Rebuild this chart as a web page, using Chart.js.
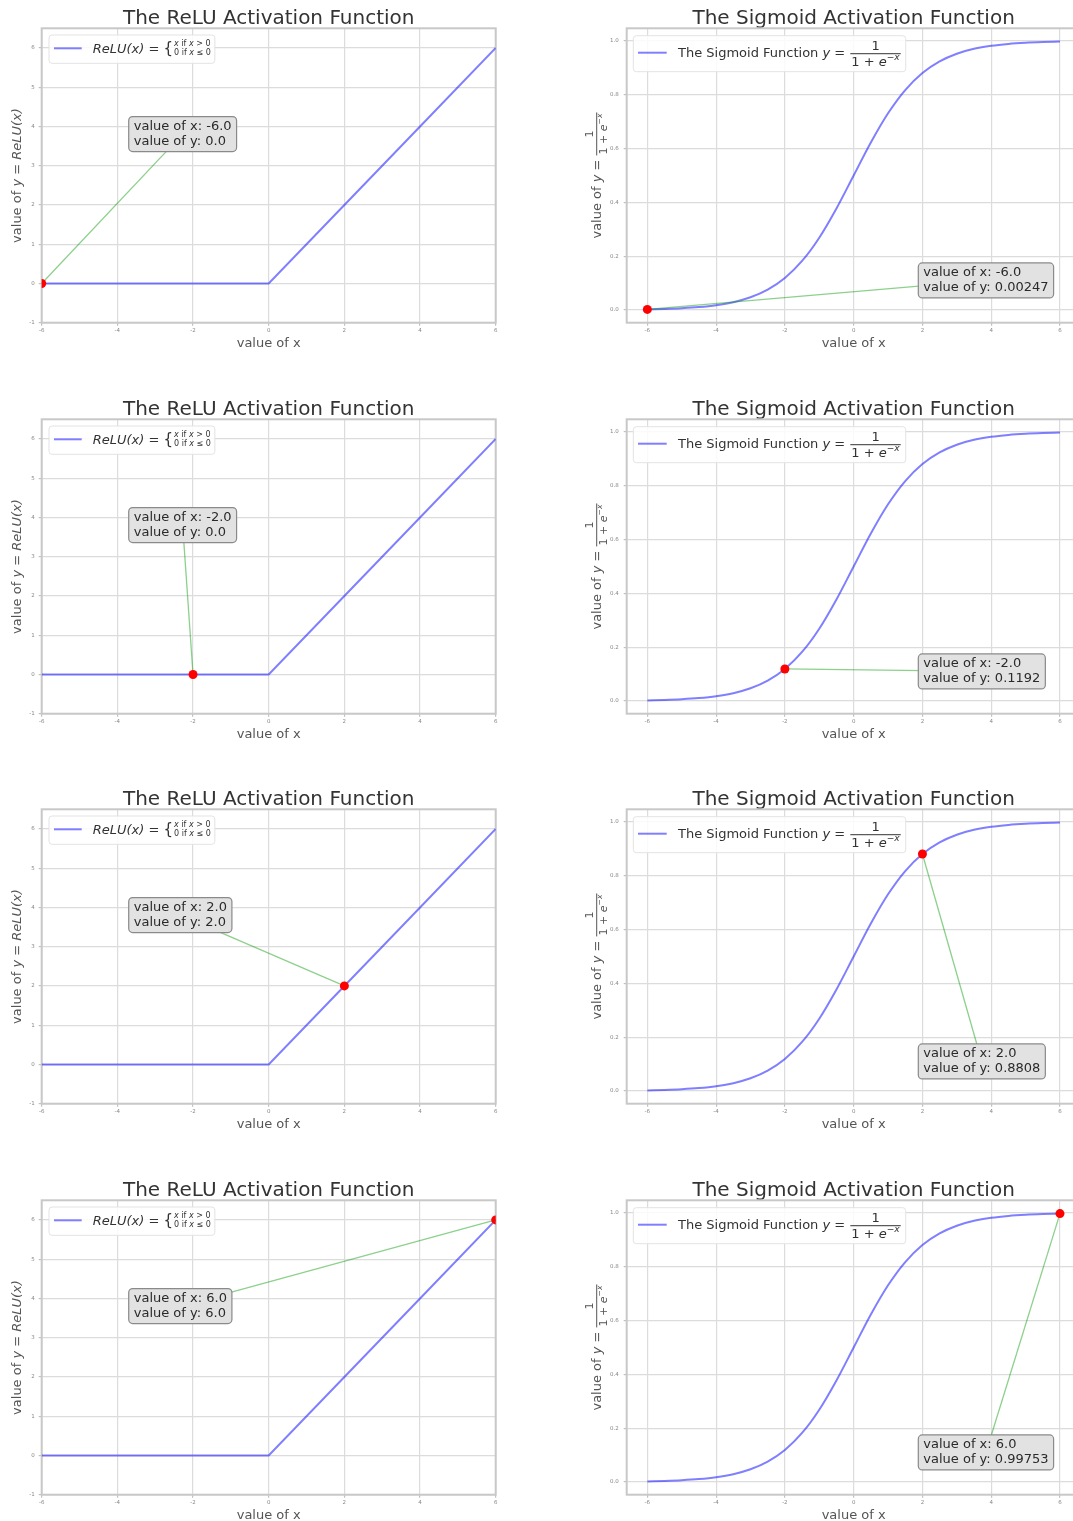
<!DOCTYPE html>
<html>
<head>
<meta charset="utf-8">
<script src="https://cdn.jsdelivr.net/npm/chart.js@4.4.1/dist/chart.umd.min.js"></script>
<style>
  html, body { margin: 0; padding: 0; background: #fff; overflow: hidden; }
  body { width: 1073px; height: 1521px; position: relative; }
  canvas { position: absolute; }
</style>
</head>
<body>
<script>
// curve samples
const reluX = [-6, -4, -2, 0, 2, 4, 6];
const reluY = [0, 0, 0, 0, 2, 4, 6];
const sigX = [-6, -5.5, -5, -4.5, -4, -3.5, -3, -2.5, -2, -1.5, -1, -0.5, 0,
  0.5, 1, 1.5, 2, 2.5, 3, 3.5, 4, 4.5, 5, 5.5, 6];
const sigY = [0.0025, 0.0041, 0.0067, 0.011, 0.018, 0.0293, 0.0474, 0.0759, 0.1192, 0.1824, 0.2689, 0.3775, 0.5,
  0.6225, 0.7311, 0.8176, 0.8808, 0.9241, 0.9526, 0.9707, 0.982, 0.989, 0.9933, 0.9959, 0.9975];

// highlighted point in each row (same x for both columns)
const pickX = [-6, -2, 2, 6];
const reluPickY = [0, 0, 2, 6];
const sigPickY = [0.00247, 0.1192, 0.8808, 0.99753];
const pickXLabel = ['-6.0', '-2.0', '2.0', '6.0'];
const reluPickLabel = ['0.0', '0.0', '2.0', '6.0'];
const sigPickLabel = ['0.00247', '0.1192', '0.8808', '0.99753'];

// tick labels
const reluXTicks = [-6, -4, -2, 0, 2, 4, 6];
const reluYTicks = [-1, 0, 1, 2, 3, 4, 5, 6];
const sigXTicks = [-6, -4, -2, 0, 2, 4, 6];
const sigYTicks = [0, 0.2, 0.4, 0.6, 0.8, 1.0];

const FONT = '"DejaVu Sans", sans-serif';
const BLUE = 'rgba(0, 0, 255, 0.5)';
const ROW_H = 390.6;

function setFont(ctx, size, it) {
  ctx.font = (it ? 'italic ' : '') + size + 'px ' + FONT;
}
function runWidth(ctx, parts) {
  let w = 0;
  for (const p of parts) { setFont(ctx, p.size, p.it); w += ctx.measureText(p.t).width; }
  return w;
}
function drawRun(ctx, x, base, parts) {
  for (const p of parts) {
    setFont(ctx, p.size, p.it);
    ctx.fillText(p.t, x, base + (p.dy || 0));
    x += ctx.measureText(p.t).width;
  }
  return x;
}
// 1 / (1 + e^-x)
function fracParts(size) {
  return {
    num: [{ t: '1', size }],
    den: [{ t: '1 + ', size }, { t: 'e', size, it: true },
      { t: '\u2212', size: size * 0.7, dy: -size * 0.45 }, { t: 'x', size: size * 0.7, it: true, dy: -size * 0.45 }]
  };
}
function fracWidth(ctx, size) {
  return runWidth(ctx, fracParts(size).den) + 2;
}
function drawFrac(ctx, x, bar, size) {
  const f = fracParts(size);
  const w = runWidth(ctx, f.den) + 2;
  const nw = runWidth(ctx, f.num);
  drawRun(ctx, x + (w - nw) / 2, bar - size * 0.3, f.num);
  drawRun(ctx, x + 1, bar + size * 0.95, f.den);
  ctx.fillRect(x, bar - 0.5, w, 1);
  return x + w;
}

function noteBox(chart, o) {
  const ctx = chart.ctx;
  setFont(ctx, 13, false);
  const tw = Math.max(...o.lines.map(t => ctx.measureText(t).width));
  const l = chart.scales.x.getPixelForValue(o.boxAt.x);
  const t = chart.scales.y.getPixelForValue(o.boxAt.y);
  return { l, t, w: tw + 10, h: 35 };
}

const deco = {
  id: 'deco',
  beforeDatasetsDraw(chart) {
    const { ctx, chartArea: a } = chart;
    ctx.save();
    ctx.strokeStyle = '#c8c8c8';
    ctx.lineWidth = 2;
    ctx.strokeRect(a.left, a.top, a.right - a.left, a.bottom - a.top);
    ctx.restore();
  },
  beforeDatasetDraw(chart, args, o) {
    if (args.index !== 1) return;
    const ctx = chart.ctx;
    const b = noteBox(chart, o);
    const pt = chart.getDatasetMeta(1).data[0];
    ctx.save();
    ctx.strokeStyle = 'rgba(0, 150, 0, 0.45)';
    ctx.lineWidth = 1.3;
    ctx.beginPath();
    ctx.moveTo(pt.x, pt.y);
    ctx.lineTo(b.l + b.w / 2, b.t + b.h / 2);
    ctx.stroke();
    ctx.restore();
  },
  afterDatasetsDraw(chart, args, o) {
    const { ctx, chartArea: a } = chart;
    ctx.save();
    // annotation box
    const b = noteBox(chart, o);
    ctx.beginPath();
    ctx.roundRect(b.l, b.t, b.w, b.h, 4);
    ctx.fillStyle = '#e2e2e2';
    ctx.fill();
    ctx.strokeStyle = '#8a8a8a';
    ctx.lineWidth = 1.2;
    ctx.stroke();
    ctx.fillStyle = '#2a2a2a';
    ctx.textBaseline = 'middle';
    setFont(ctx, 13, false);
    ctx.fillText(o.lines[0], b.l + 5, b.t + 10);
    ctx.fillText(o.lines[1], b.l + 5, b.t + 25);
    ctx.textBaseline = 'alphabetic';

    // legend
    if (o.kind === 'relu') {
      const L = a.left + 7.3, T = a.top + 6.7, H = 28.3;
      const lineY = T + 13.3, base = lineY + 4.5;
      const main = [{ t: 'ReLU(x)', size: 13, it: true }, { t: ' = ', size: 13 }, { t: '{', size: 15 }];
      const small1 = [{ t: 'x', size: 8, it: true }, { t: ' if ', size: 8 }, { t: 'x', size: 8, it: true }, { t: ' > 0', size: 8 }];
      const small2 = [{ t: '0 if ', size: 8 }, { t: 'x', size: 8, it: true }, { t: ' \u2264 0', size: 8 }];
      const mw = runWidth(ctx, main);
      const sw = Math.max(runWidth(ctx, small1), runWidth(ctx, small2));
      const W = 43.7 + mw + 1 + sw + 4;
      ctx.beginPath();
      ctx.roundRect(L, T, W, H, 3);
      ctx.fillStyle = 'rgba(255,255,255,0.85)';
      ctx.fill();
      ctx.strokeStyle = '#e3e3e3';
      ctx.lineWidth = 1;
      ctx.stroke();
      ctx.strokeStyle = BLUE;
      ctx.lineWidth = 2;
      ctx.beginPath();
      ctx.moveTo(L + 5, lineY);
      ctx.lineTo(L + 32.7, lineY);
      ctx.stroke();
      ctx.fillStyle = '#333';
      const x1 = drawRun(ctx, L + 43.7, base, main) + 1;
      drawRun(ctx, x1, lineY - 2.3, small1);
      drawRun(ctx, x1, lineY + 7, small2);
    } else {
      const L = a.left + 6.6, T = a.top + 7.4, H = 36;
      const lineY = T + 17, base = lineY + 4.5;
      const main = [{ t: 'The Sigmoid Function ', size: 13 }, { t: 'y', size: 13, it: true }, { t: ' = ', size: 13 }];
      const W = 44.7 + runWidth(ctx, main) + fracWidth(ctx, 13) + 6;
      ctx.beginPath();
      ctx.roundRect(L, T, W, H, 3);
      ctx.fillStyle = 'rgba(255,255,255,0.85)';
      ctx.fill();
      ctx.strokeStyle = '#e3e3e3';
      ctx.lineWidth = 1;
      ctx.stroke();
      ctx.strokeStyle = BLUE;
      ctx.lineWidth = 2;
      ctx.beginPath();
      ctx.moveTo(L + 4.7, lineY);
      ctx.lineTo(L + 33.4, lineY);
      ctx.stroke();
      ctx.fillStyle = '#333';
      const x1 = drawRun(ctx, L + 44.7, base, main) + 1;
      drawFrac(ctx, x1, base - 3.5, 13);
    }
    ctx.restore();
  },
  afterDraw(chart, args, o) {
    // y-axis title, drawn by hand for the maths
    const { ctx, chartArea: a } = chart;
    ctx.save();
    ctx.translate(o.yTitleX, (a.top + a.bottom) / 2);
    ctx.rotate(-Math.PI / 2);
    ctx.fillStyle = '#555';
    const head = [{ t: 'value of ', size: 13 }, { t: 'y', size: 13, it: true }, { t: ' = ', size: 13 }];
    if (o.kind === 'relu') {
      const parts = head.concat([{ t: 'ReLU(x)', size: 13, it: true }]);
      drawRun(ctx, -runWidth(ctx, parts) / 2, 4, parts);
    } else {
      const total = runWidth(ctx, head) + fracWidth(ctx, 11);
      const x1 = drawRun(ctx, -total / 2, 4, head);
      drawFrac(ctx, x1, 0, 11);
    }
    ctx.restore();
  }
};

function makeChart(kind, row) {
  const relu = kind === 'relu';
  const w = relu ? 530 : 540;
  const chartLeft = relu ? 41.7 : 66.7;
  const chartRight = relu ? 495.7 : 520.6;
  const canvas = document.createElement('canvas');
  canvas.width = w;
  canvas.height = 390;
  canvas.style.left = (relu ? 0 : 560) + 'px';
  canvas.style.top = Math.round(row * ROW_H) + 'px';
  document.body.appendChild(canvas);

  const xs = relu ? reluX : sigX;
  const ys = relu ? reluY : sigY;
  const py = relu ? reluPickY[row] : sigPickY[row];
  const xTicks = relu ? reluXTicks : sigXTicks;
  const yTicks = relu ? reluYTicks : sigYTicks;

  const grid = { color: '#dcdcdc', lineWidth: 1.2, tickLength: 3, tickColor: '#c0c0c0' };
  const tickFont = { family: FONT, size: 5.5 };

  new Chart(canvas, {
    type: 'scatter',
    data: {
      datasets: [
        {
          label: relu ? 'ReLU(x)' : 'The Sigmoid Function',
          data: xs.map((x, i) => ({ x, y: ys[i] })),
          showLine: true,
          borderColor: BLUE,
          borderWidth: 2,
          pointRadius: 0,
          cubicInterpolationMode: relu ? 'default' : 'monotone',
          order: 1
        },
        {
          data: [{ x: pickX[row], y: py }],
          pointRadius: 4.5,
          backgroundColor: '#ff0000',
          borderWidth: 0,
          clip: 0,
          order: 0
        }
      ]
    },
    options: {
      responsive: false,
      animation: false,
      layout: { padding: { left: 0, right: w - chartRight, top: 0, bottom: 0 } },
      plugins: {
        legend: { display: false },
        tooltip: { enabled: false },
        title: {
          display: true,
          text: relu ? 'The ReLU Activation Function' : 'The Sigmoid Activation Function',
          fullSize: false,
          color: '#333',
          font: { family: FONT, size: 20, weight: 'normal', lineHeight: 0.93 },
          padding: { top: 9.7, bottom: 0 }
        },
        deco: {
          kind,
          boxAt: relu ? { x: -3.7, y: 4.25 } : { x: 1.88, y: 0.175 },
          lines: ['value of x: ' + pickXLabel[row],
            'value of y: ' + (relu ? reluPickLabel[row] : sigPickLabel[row])],
          yTitleX: relu ? 16.7 : 36.7
        }
      },
      scales: {
        x: {
          type: 'linear',
          min: relu ? -6 : -6.6,
          max: relu ? 6 : 6.6,
          afterBuildTicks: s => { s.ticks = xTicks.map(v => ({ value: v })); },
          afterFit: s => { s.height = 67.3; },
          grid,
          border: { display: false },
          ticks: { font: tickFont, color: '#888', padding: 2, maxRotation: 0, autoSkip: false, callback: v => String(v) },
          title: { display: true, text: 'value of x', color: '#555', font: { family: FONT, size: 13 }, padding: { top: 0, bottom: 38.8 } }
        },
        y: {
          type: 'linear',
          min: relu ? -1 : -0.047,
          max: relu ? 6.5 : 1.047,
          afterBuildTicks: s => { s.ticks = yTicks.map(v => ({ value: v })); },
          afterFit: s => { s.width = chartLeft; },
          grid,
          border: { display: false },
          ticks: { font: tickFont, color: '#888', padding: relu ? 4 : 5, autoSkip: false,
            callback: v => relu ? String(v) : v.toFixed(1) }
        }
      }
    },
    plugins: [deco]
  });
}

for (let r = 0; r < pickX.length; r++) {
  makeChart('relu', r);
  makeChart('sigmoid', r);
}
</script>
</body>
</html>
